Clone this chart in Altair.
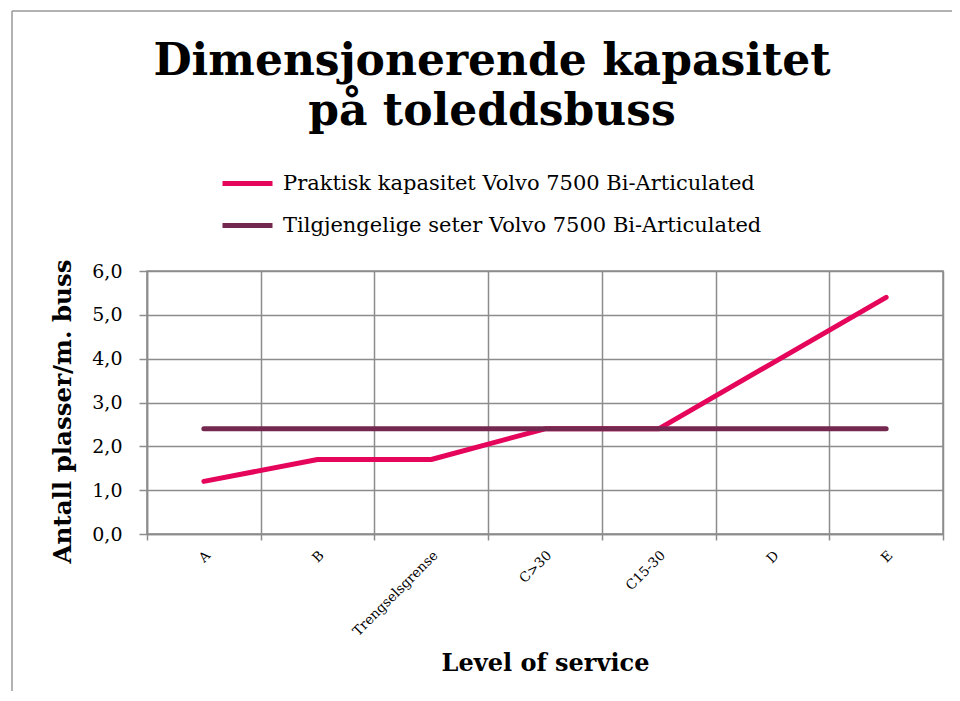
import json
import altair as alt
import pandas as pd

categories = ["A", "B", "Trengselsgrense", "C>30", "C15-30", "D", "E"]
praktisk = [1.2, 1.7, 1.7, 2.4, 2.4, 3.9, 5.4]
seter = [2.4, 2.4, 2.4, 2.4, 2.4, 2.4, 2.4]
series_names = [
    "Praktisk kapasitet Volvo 7500 Bi-Articulated",
    "Tilgjengelige seter Volvo 7500 Bi-Articulated",
]
series_colors = ["#E5055B", "#74284F"]
title_lines = ["Dimensjonerende kapasitet", "på toleddsbuss"]
y_ticks = [0, 1, 2, 3, 4, 5, 6]
x_title = "Level of service"
y_title = "Antall plasser/m. buss"

rows = []
for i, c in enumerate(categories):
    rows.append({"cat": c, "pos": i, "serie": series_names[0], "verdi": praktisk[i]})
for i, c in enumerate(categories):
    rows.append({"cat": c, "pos": i, "serie": series_names[1], "verdi": seter[i]})
df = pd.DataFrame(rows)

W, H = 796, 263
FONT = "DejaVu Serif"
GRID = "#8C8C8C"
n = len(categories)

x_label_expr = f"datum.value < {n} ? {json.dumps(categories)}[datum.value] : ''"

lines = (
    alt.Chart(df)
    .transform_calculate(xc="datum.pos + 0.5")
    .mark_line(strokeWidth=5, strokeCap="round", strokeJoin="round")
    .encode(
        x=alt.X(
            "xc:Q",
            scale=alt.Scale(domain=[0, n], nice=False, zero=False),
            axis=alt.Axis(
                values=list(range(n + 1)),
                labelExpr=x_label_expr,
                labelAngle=-45,
                labelAlign="right",
                labelBaseline="top",
                labelOffset=W / n / 2 - 1,
                labelPadding=8,
                labelFont=FONT,
                labelFontSize=13.5,
                labelColor="#000000",
                labelOverlap=False,
                labelFlush=False,
                labelBound=False,
                tickSize=6,
                title=x_title,
                titleFont=FONT,
                titleFontSize=24,
                titleFontWeight="bold",
                titleColor="#000000",
                titleX=W / 2,
                titleY=136,
                titleAlign="center",
                titleBaseline="alphabetic",
            ),
        ),
        y=alt.Y(
            "verdi:Q",
            scale=alt.Scale(domain=[0, 6], nice=False, zero=True),
            axis=alt.Axis(
                values=y_ticks,
                labelExpr="replace(format(datum.value, '.1f'), '.', ',')",
                labelFont=FONT,
                labelFontSize=19,
                labelColor="#000000",
                labelPadding=17,
                tickSize=8,
                title=y_title,
                titleFont=FONT,
                titleFontSize=24.5,
                titleFontWeight="bold",
                titleColor="#000000",
                titleAngle=-90,
                titleX=-77,
                titleY=140,
                titleAlign="center",
                titleBaseline="alphabetic",
            ),
        ),
        color=alt.Color(
            "serie:N",
            scale=alt.Scale(domain=series_names, range=series_colors),
            legend=alt.Legend(
                title=None,
                orient="none",
                legendX=73,
                legendY=-115,
                symbolType="stroke",
                symbolSize=2500,
                symbolStrokeWidth=5,
                labelFont=FONT,
                labelFontSize=21,
                labelColor="#000000",
                labelOffset=8,
                labelLimit=700,
                rowPadding=4,
                padding=0,
            ),
        ),
    )
)

title_df = pd.DataFrame({"t": [0]})
title = (
    alt.Chart(title_df)
    .mark_text(
        font=FONT,
        fontSize=44,
        fontWeight="bold",
        color="#000000",
        align="center",
        baseline="alphabetic",
        lineHeight=50,
    )
    .encode(x=alt.value(345), y=alt.value(-196), text=alt.value(title_lines))
)

border_left = (
    alt.Chart(title_df)
    .mark_rule(color="#999999", strokeWidth=1.5)
    .encode(x=alt.value(-135), y=alt.value(-260), y2=alt.value(420))
)
border_top = (
    alt.Chart(title_df)
    .mark_rule(color="#999999", strokeWidth=1.5)
    .encode(x=alt.value(-135), x2=alt.value(810), y=alt.value(-260))
)

chart = (
    alt.layer(border_left, border_top, title, lines)
    .properties(
        width=W,
        height=H,
        autosize=alt.AutoSizeParams(type="none"),
        padding={"left": 139, "top": 263, "right": 9, "bottom": 159},
        background="#FFFFFF",
    )
    .configure_view(stroke=GRID, strokeWidth=1.5)
    .configure_axis(
        domainColor=GRID,
        domainWidth=1.5,
        tickColor=GRID,
        tickWidth=1.5,
        gridColor=GRID,
        gridWidth=1.5,
        gridOpacity=1,
        grid=True,
    )
)

chart.save("out.html", embed_options={"renderer": "svg", "actions": False})
